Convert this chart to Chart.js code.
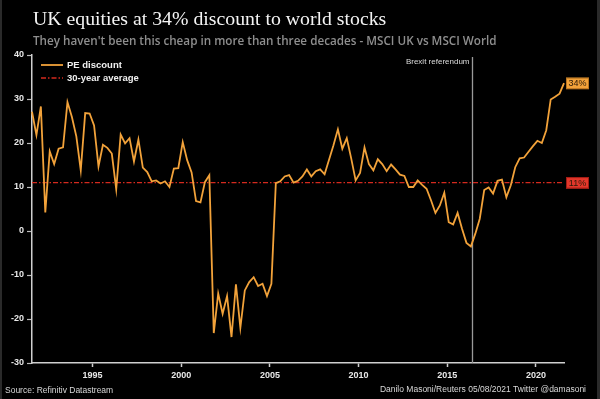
<!DOCTYPE html>
<html>
<head>
<meta charset="utf-8">
<script src="https://cdn.jsdelivr.net/npm/chart.js@4.4.0/dist/chart.umd.min.js"></script>
<style>
  html, body { margin: 0; padding: 0; background: #000; }
  #wrap { width: 600px; height: 399px; position: relative; }
</style>
</head>
<body>
<div id="wrap"><canvas id="chart"></canvas></div>
<script>
// quarterly readings, MSCI UK vs MSCI World forward PE discount (%)
const periods = [
  '1991-08', '1991-11',
  '1992-02', '1992-05', '1992-08', '1992-11',
  '1993-02', '1993-05', '1993-08', '1993-11',
  '1994-02', '1994-05', '1994-08', '1994-11',
  '1995-02', '1995-05', '1995-08', '1995-11',
  '1996-02', '1996-05', '1996-08', '1996-11',
  '1997-02', '1997-05', '1997-08', '1997-11',
  '1998-02', '1998-05', '1998-08', '1998-11',
  '1999-02', '1999-05', '1999-08', '1999-11',
  '2000-02', '2000-05', '2000-08', '2000-11',
  '2001-02', '2001-05', '2001-08', '2001-11',
  '2002-02', '2002-05', '2002-08', '2002-11',
  '2003-02', '2003-05', '2003-08', '2003-11',
  '2004-02', '2004-05', '2004-08', '2004-11',
  '2005-02', '2005-05', '2005-08', '2005-11',
  '2006-02', '2006-05', '2006-08', '2006-11',
  '2007-02', '2007-05', '2007-08', '2007-11',
  '2008-02', '2008-05', '2008-08', '2008-11',
  '2009-02', '2009-05', '2009-08', '2009-11',
  '2010-02', '2010-05', '2010-08', '2010-11',
  '2011-02', '2011-05', '2011-08', '2011-11',
  '2012-02', '2012-05', '2012-08', '2012-11',
  '2013-02', '2013-05', '2013-08', '2013-11',
  '2014-02', '2014-05', '2014-08', '2014-11',
  '2015-02', '2015-05', '2015-08', '2015-11',
  '2016-02', '2016-05', '2016-08', '2016-11',
  '2017-02', '2017-05', '2017-08', '2017-11',
  '2018-02', '2018-05', '2018-08', '2018-11',
  '2019-02', '2019-05', '2019-08', '2019-11',
  '2020-02', '2020-05', '2020-08', '2020-11',
  '2021-02', '2021-05', '2021-08'
];

const peDiscount = [
  27.1, 21.8,
  28.3, 4.2, 18.1, 15.2,
  18.7, 19.0, 29.3, 25.9,
  21.5, 13.8, 26.8, 26.7,
  24.0, 14.7, 19.6, 18.9,
  17.6, 9.5, 21.9, 19.9,
  21.1, 15.8, 20.8, 14.4,
  13.4, 11.3, 11.5, 10.8,
  11.3, 10.0, 14.2, 14.3,
  20.2, 16.1, 13.3, 6.8,
  6.5, 11.1, 12.7, -23.2,
  -14.2, -18.8, -14.8, -24.1,
  -12.1, -22.0, -13.5, -11.6,
  -10.5, -12.5, -12.0, -14.8,
  -12.0, 10.9, 11.3, 12.4,
  12.7, 11.0, 11.4, 12.4,
  14.0, 12.4, 13.6, 14.0,
  12.9, 16.2, 19.5, 23.1,
  18.7, 21.1, 16.5, 11.5,
  13.2, 19.0, 15.2, 13.8,
  16.3, 15.2, 13.6, 15.1,
  14.0, 12.8, 12.5, 10.0,
  10.0, 11.5, 10.5, 9.6,
  7.0, 4.1, 5.8, 8.7,
  2.0, 1.5, 4.1, 0.5,
  -2.7, -3.5, -0.6, 2.8,
  9.3, 9.9, 8.5, 11.4,
  11.7, 7.7, 10.4, 14.5,
  16.5, 16.7, 18.0, 19.3,
  20.5, 20.0, 22.9, 29.9,
  30.5, 31.2, 33.6
];

const longRunAverage = 11;
const xTickYears = [1995, 2000, 2005, 2010, 2015, 2020];
const brexitPeriod = '2016-06';

const ORANGE = '#f2a23a';
const RED = '#d42a1e';
const SANS = '"Liberation Sans", Arial, sans-serif';

const toYear = p => {
  const [y, m] = p.split('-').map(Number);
  return y + (m - 1) / 12;
};

const firstYear = toYear(periods[0]);
const lastYear = toYear(periods[periods.length - 1]);

const decor = {
  id: 'decor',
  beforeDraw(chart) {
    const { ctx, width, height } = chart;
    ctx.save();
    ctx.fillStyle = '#000';
    ctx.fillRect(0, 0, width, height);
    ctx.fillStyle = '#2a2a2a';
    ctx.fillRect(0, 0, 2, height);
    ctx.fillRect(width - 3, 0, 3, height);
    ctx.restore();
  },
  beforeDatasetsDraw(chart) {
    const { ctx, scales } = chart;
    const bx = Math.round(scales.x.getPixelForValue(toYear(brexitPeriod))) + 0.5;
    ctx.save();
    ctx.strokeStyle = '#9a9a9a';
    ctx.lineWidth = 1.3;
    ctx.beginPath();
    ctx.moveTo(bx, 57);
    ctx.lineTo(bx, chart.chartArea.bottom);
    ctx.stroke();
    ctx.fillStyle = '#dcdcdc';
    ctx.font = '8px ' + SANS;
    ctx.textAlign = 'right';
    ctx.textBaseline = 'middle';
    ctx.fillText('Brexit referendum', bx - 3, 62);
    ctx.restore();
  },
  afterDraw(chart) {
    const { ctx, scales, chartArea } = chart;
    ctx.save();

    // title + subtitle
    ctx.textAlign = 'left';
    ctx.textBaseline = 'alphabetic';
    ctx.fillStyle = '#f4f4f4';
    ctx.font = '19.8px "Liberation Serif", "Times New Roman", serif';
    ctx.fillText('UK equities at 34% discount to world stocks', 33, 24.5);
    ctx.fillStyle = '#8e8e8e';
    ctx.font = '600 11.7px "Open Sans", sans-serif';
    ctx.fillText("They haven't been this cheap in more than three decades - MSCI UK vs MSCI World", 33, 44.5);

    // legend
    const ds = chart.data.datasets;
    ctx.textBaseline = 'middle';
    ctx.font = 'bold 9.5px ' + SANS;
    [65, 78].forEach((ly, i) => {
      ctx.strokeStyle = ds[i].borderColor;
      ctx.lineWidth = ds[i].borderWidth;
      ctx.setLineDash(ds[i].borderDash || []);
      ctx.beginPath();
      ctx.moveTo(41, ly);
      ctx.lineTo(63, ly);
      ctx.stroke();
      ctx.setLineDash([]);
      ctx.fillStyle = '#f0f0f0';
      ctx.fillText(ds[i].label, 67, ly + 0.5);
    });

    // end-of-line value tags
    const tag = (value, fill, border) => {
      const y = scales.y.getPixelForValue(value);
      const x = chartArea.right + 2;
      ctx.fillStyle = fill;
      ctx.fillRect(x, y - 5.5, 23, 11.5);
      ctx.strokeStyle = border;
      ctx.lineWidth = 1;
      ctx.strokeRect(x + 0.5, y - 5, 22, 10.5);
      ctx.fillStyle = '#2b1a08';
      ctx.font = '9px ' + SANS;
      ctx.textAlign = 'center';
      ctx.fillText(Math.round(value) + '%', x + 11.5, y + 0.5);
    };
    tag(peDiscount[peDiscount.length - 1], ORANGE, '#b87420');
    tag(longRunAverage, '#e3372b', '#a01c14');

    // footer
    ctx.fillStyle = '#d8d8d8';
    ctx.font = '8.5px ' + SANS;
    ctx.textAlign = 'left';
    ctx.fillText('Source: Refinitiv Datastream', 5, 391);
    ctx.textAlign = 'right';
    ctx.fillText('Danilo Masoni/Reuters 05/08/2021 Twitter @damasoni', 586, 390);

    ctx.restore();
  }
};

new Chart(document.getElementById('chart'), {
  type: 'line',
  data: {
    datasets: [
      {
        label: 'PE discount',
        data: periods.map((p, i) => ({ x: toYear(p), y: peDiscount[i] })),
        borderColor: ORANGE,
        borderWidth: 1.8,
        pointRadius: 0,
        tension: 0,
        clip: false
      },
      {
        label: '30-year average',
        data: [
          { x: firstYear, y: longRunAverage },
          { x: lastYear, y: longRunAverage }
        ],
        borderColor: RED,
        borderWidth: 1.3,
        borderDash: [5, 2, 1.5, 2],
        pointRadius: 0,
        clip: false
      }
    ]
  },
  options: {
    responsive: true,
    maintainAspectRatio: false,
    animation: false,
    devicePixelRatio: 1,
    layout: {
      padding: { left: 0, top: 55, right: 36, bottom: 0 }
    },
    plugins: {
      legend: { display: false },
      title: { display: false },
      tooltip: { enabled: false }
    },
    scales: {
      x: {
        type: 'linear',
        min: firstYear,
        max: lastYear,
        afterBuildTicks: scale => {
          scale.ticks = xTickYears.map(v => ({ value: v }));
        },
        afterFit: scale => { scale.height = 36; },
        grid: {
          display: true,
          drawOnChartArea: false,
          drawTicks: true,
          tickLength: 4,
          tickWidth: 1.5,
          tickColor: '#cfcfcf'
        },
        border: { display: true, color: '#cfcfcf', width: 1.5 },
        ticks: {
          color: '#e8e8e8',
          padding: 3,
          maxRotation: 0,
          autoSkip: false,
          font: { family: SANS, size: 9, weight: 'bold' },
          callback: v => String(v)
        }
      },
      y: {
        min: -30,
        max: 40,
        afterFit: scale => { scale.width = 32; },
        grid: {
          display: true,
          drawOnChartArea: false,
          drawTicks: true,
          tickLength: 5,
          tickWidth: 1.2,
          tickColor: '#bdbdbd'
        },
        border: { display: true, color: '#cfcfcf', width: 1.5 },
        ticks: {
          stepSize: 10,
          color: '#e8e8e8',
          padding: 3,
          font: { family: SANS, size: 9, weight: 'bold' },
          callback: v => String(v)
        }
      }
    }
  },
  plugins: [decor]
});
</script>
</body>
</html>
